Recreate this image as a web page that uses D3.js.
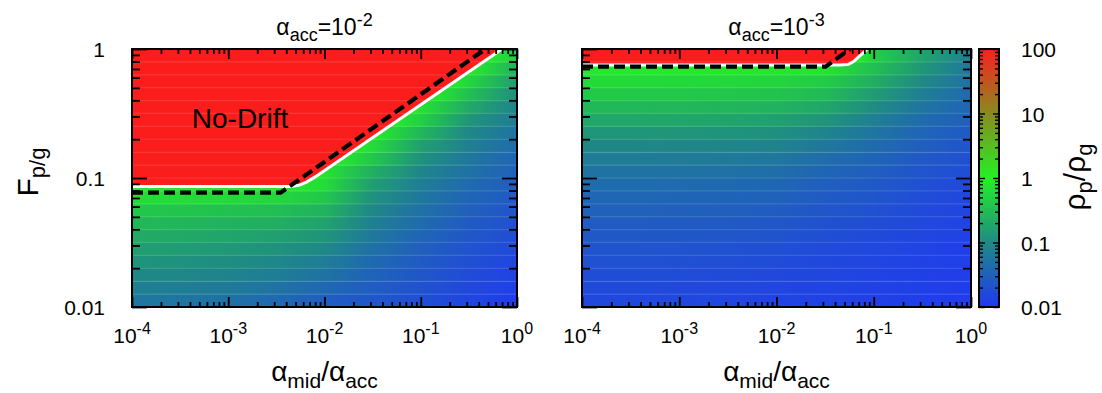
<!DOCTYPE html>
<html>
<head>
<meta charset="utf-8">
<script src="https://cdn.jsdelivr.net/npm/d3@7"></script>
<style>
  body { margin: 0; background: #fff; }
  text { font-family: "Liberation Sans", Arial, Helvetica, sans-serif; fill: #000; }
</style>
</head>
<body>
<svg id="chart" width="1102" height="393"></svg>
<script>
// ---- data ----
// F_p/g band centres (bottom -> top), 0.1 dex bands
var F_ROWS = [0.0112, 0.0141, 0.0178, 0.0224, 0.0282, 0.0355, 0.0447, 0.0562, 0.0708, 0.0891,
              0.112, 0.141, 0.178, 0.224, 0.282, 0.355, 0.447, 0.562, 0.708, 0.891];
// alpha_mid/alpha_acc columns where the colour was read
var X_COLS = [1e-4, 3.16e-4, 1e-3, 3.16e-3, 1e-2, 3.16e-2, 0.1, 0.316, 1];

// log10(rho_p/rho_g), one array per column, rows bottom -> top; null = no-drift (red)
var LEFT_LOG_RHO = [
  [-1.24,-1.13,-1.02,-0.91,-0.80,-0.68,-0.55,-0.40,-0.19,null,null,null,null,null,null,null,null,null,null,null],
  [-1.26,-1.15,-1.04,-0.93,-0.82,-0.70,-0.57,-0.42,-0.20,null,null,null,null,null,null,null,null,null,null,null],
  [-1.30,-1.19,-1.08,-0.97,-0.86,-0.74,-0.61,-0.46,-0.22,null,null,null,null,null,null,null,null,null,null,null],
  [-1.40,-1.28,-1.16,-1.04,-0.92,-0.79,-0.65,-0.49,-0.25,null,null,null,null,null,null,null,null,null,null,null],
  [-1.55,-1.42,-1.29,-1.16,-1.03,-0.90,-0.76,-0.60,-0.40,-0.20,-0.12,null,null,null,null,null,null,null,null,null],
  [-1.63,-1.56,-1.48,-1.40,-1.31,-1.22,-1.13,-1.04,-0.93,-0.80,-0.64,-0.40,-0.20,null,null,null,null,null,null,null],
  [-1.73,-1.68,-1.63,-1.57,-1.51,-1.45,-1.38,-1.31,-1.23,-1.15,-1.06,-0.93,-0.78,-0.56,-0.31,-0.15,null,null,null,null],
  [-1.84,-1.80,-1.76,-1.72,-1.67,-1.62,-1.57,-1.51,-1.45,-1.38,-1.31,-1.23,-1.12,-1.02,-0.89,-0.70,-0.47,-0.25,-0.10,null],
  [-1.94,-1.90,-1.86,-1.82,-1.78,-1.74,-1.70,-1.65,-1.60,-1.55,-1.50,-1.45,-1.37,-1.28,-1.18,-1.08,-0.96,-0.82,-0.62,-0.36]
];
var RIGHT_LOG_RHO = [
  [-1.80,-1.78,-1.74,-1.70,-1.66,-1.61,-1.56,-1.50,-1.44,-1.37,-1.28,-1.17,-1.03,-0.88,-0.72,-0.55,-0.38,-0.22,-0.08,null],
  [-1.80,-1.78,-1.74,-1.70,-1.66,-1.61,-1.56,-1.50,-1.44,-1.37,-1.28,-1.17,-1.03,-0.88,-0.72,-0.55,-0.38,-0.22,-0.08,null],
  [-1.81,-1.79,-1.75,-1.71,-1.67,-1.62,-1.57,-1.51,-1.45,-1.38,-1.29,-1.18,-1.04,-0.89,-0.73,-0.56,-0.39,-0.23,-0.08,null],
  [-1.83,-1.81,-1.77,-1.73,-1.69,-1.64,-1.59,-1.53,-1.47,-1.40,-1.31,-1.20,-1.06,-0.91,-0.75,-0.58,-0.41,-0.25,-0.09,null],
  [-1.86,-1.84,-1.80,-1.76,-1.72,-1.67,-1.62,-1.56,-1.50,-1.43,-1.34,-1.23,-1.09,-0.94,-0.78,-0.61,-0.44,-0.27,-0.10,null],
  [-1.88,-1.86,-1.83,-1.80,-1.77,-1.73,-1.69,-1.64,-1.59,-1.53,-1.45,-1.35,-1.22,-1.07,-0.90,-0.72,-0.53,-0.35,-0.12,null],
  [-1.90,-1.88,-1.86,-1.84,-1.81,-1.78,-1.74,-1.70,-1.65,-1.60,-1.54,-1.46,-1.37,-1.26,-1.13,-0.98,-0.82,-0.65,-0.48,-0.32],
  [-1.93,-1.92,-1.90,-1.88,-1.86,-1.84,-1.81,-1.78,-1.75,-1.71,-1.66,-1.60,-1.53,-1.45,-1.36,-1.26,-1.14,-1.01,-0.88,-0.75],
  [-1.95,-1.94,-1.93,-1.92,-1.91,-1.89,-1.87,-1.85,-1.82,-1.79,-1.75,-1.71,-1.66,-1.60,-1.53,-1.46,-1.39,-1.31,-1.23,-1.15]
];
// value just under the white line
var LEFT_EDGE_LOG = -0.1;
var RIGHT_EDGE_LOG = -0.08;

// no-drift boundary (white) and analytic criterion (dashed), [alpha ratio, F]
var LEFT_EDGE  = [[1e-4,0.086],[4.5e-3,0.086],[5.5e-3,0.088],[6.5e-3,0.093],[8e-3,0.102],[0.7,1]];
var LEFT_DASH  = [[1e-4,0.077],[3.5e-3,0.077],[0.47,1]];
var RIGHT_EDGE = [[1e-4,0.75],[0.045,0.75],[0.055,0.76],[0.062,0.8],[0.07,0.87],[0.08,0.95],[0.085,1]];
var RIGHT_DASH = [[1e-4,0.73],[0.032,0.73],[0.057,1]];

// colour bar
var CB_LOG    = [-2, -1, 0, 1, 2];
var CB_COLORS = ["#2038f2", "#1f8a84", "#24f024", "#8a8a20", "#f82020"];
var CB_TICKS  = [0.01, 0.1, 1, 10, 100];
var CB_LABELS = ["0.01", "0.1", "1", "10", "100"];

var X_TICKS = [1e-4, 1e-3, 1e-2, 1e-1, 1];
var X_EXP   = ["-4", "-3", "-2", "-1", "0"];
var Y_TICKS = [0.01, 0.1, 1];
var Y_LABELS = ["0.01", "0.1", "1"];

// ---- layout ----
var TOP = 49, BOTTOM = 307;
var svg = d3.select("#chart");
var defs = svg.append("defs");

var color = d3.scaleLinear().domain(CB_LOG).range(CB_COLORS).clamp(true);
var y = d3.scaleLog().domain([0.01, 1]).range([BOTTOM, TOP]);

var panels = [
  { id: "L", left: 132, right: 517, exp: "-2", rho: LEFT_LOG_RHO, edgeVal: LEFT_EDGE_LOG,
    edge: LEFT_EDGE, dash: LEFT_DASH, yLabels: true, note: "No-Drift" },
  { id: "R", left: 582, right: 971, exp: "-3", rho: RIGHT_LOG_RHO, edgeVal: RIGHT_EDGE_LOG,
    edge: RIGHT_EDGE, dash: RIGHT_DASH, yLabels: false }
];

function minorTicks( lo, hi ){
  var out = [];
  for( var e = lo ; e < hi ; e++ )
    for( var m = 2 ; m <= 9 ; m++ ) out.push( m * Math.pow( 10, e ) );
  return out;
}

// where the boundary curve crosses a given F (only on its rising part)
function edgeCrossing( edge, f ){
  for( var k = 1 ; k < edge.length ; k++ ){
    var a = edge[ k - 1 ], b = edge[ k ];
    if( a[1] !== b[1] && f >= a[1] && f <= b[1] ){
      var t = ( Math.log( f ) - Math.log( a[1] ) ) / ( Math.log( b[1] ) - Math.log( a[1] ) );
      return Math.exp( Math.log( a[0] ) + t * ( Math.log( b[0] ) - Math.log( a[0] ) ) );
    }
  }
  return null;
}

// text made of [string, size, dy] pieces
function richText( g, parts ){
  var t = g.append( "text" );
  parts.forEach( function( q ){
    t.append( "tspan" ).attr( "font-size", q[1] ).attr( "dy", q[2] || 0 ).text( q[0] );
  });
  return t;
}

panels.forEach( function( p ){
  var x = d3.scaleLog().domain([1e-4, 1]).range([p.left, p.right]);
  var w = p.right - p.left;
  var g = svg.append( "g" );

  defs.append( "clipPath" ).attr( "id", "clip" + p.id )
    .append( "rect" ).attr( "x", p.left ).attr( "y", TOP ).attr( "width", w ).attr( "height", BOTTOM - TOP );

  var body = g.append( "g" ).attr( "clip-path", "url(#clip" + p.id + ")" );

  // heat bands: each band gets a horizontal gradient through the read columns
  F_ROWS.forEach( function( f, i ){
    var stops = [];
    var xe = edgeCrossing( p.edge, f );
    var eOff = xe === null ? -1 : ( x( xe ) - p.left ) / w;
    if( xe !== null ) stops.push( { off: eOff, c: color( p.edgeVal ) } );
    X_COLS.forEach( function( xc, j ){
      var v = p.rho[ j ][ i ];
      var off = ( x( xc ) - p.left ) / w;
      if( v !== null && off > eOff + 0.01 ) stops.push( { off: off, c: color( v ) } );
    });
    if( !stops.length ) return;
    var gid = "g" + p.id + i;
    var grad = defs.append( "linearGradient" ).attr( "id", gid );
    stops.forEach( function( s ){
      grad.append( "stop" ).attr( "offset", s.off ).attr( "stop-color", s.c );
    });
    var y0 = y( f * Math.pow( 10, 0.05 ) ), y1 = y( f / Math.pow( 10, 0.05 ) );
    body.append( "rect" )
      .attr( "x", p.left ).attr( "y", y0 ).attr( "width", w ).attr( "height", y1 - y0 + 0.6 )
      .attr( "fill", "url(#" + gid + ")" );
  });

  var line = d3.line().x( function( d ){ return x( d[0] ); } ).y( function( d ){ return y( d[1] ); } );

  // no-drift region
  var area = [[1e-4, 1]].concat( p.edge ).concat( [[1e-4, 1]] );
  body.append( "path" ).attr( "d", line( area ) + "Z" ).attr( "fill", "#fb1c1c" );

  // faint grid stripes of the map
  F_ROWS.forEach( function( f ){
    var yy = y( f * Math.pow( 10, 0.05 ) );
    body.append( "line" ).attr( "x1", p.left ).attr( "x2", p.right ).attr( "y1", yy ).attr( "y2", yy )
      .attr( "stroke", "#fff" ).attr( "stroke-opacity", 0.12 ).attr( "stroke-width", 1.2 );
  });

  body.append( "path" ).attr( "d", line( p.edge ) )
    .attr( "fill", "none" ).attr( "stroke", "#fff" ).attr( "stroke-width", 3 );
  body.append( "path" ).attr( "d", line( p.dash ) )
    .attr( "fill", "none" ).attr( "stroke", "#000" ).attr( "stroke-width", 4.2 )
    .attr( "stroke-dasharray", "11,5" );

  if( p.note ){
    g.append( "text" ).attr( "x", 240 ).attr( "y", 128 ).attr( "font-size", 28 )
      .attr( "text-anchor", "middle" ).text( p.note );
  }

  // ticks on all four sides, pointing inward
  function axis( a, vals, len ){
    return a.tickValues( vals ).tickSizeInner( -len ).tickSizeOuter( 0 ).tickFormat( "" );
  }
  var xMinor = minorTicks( -4, 0 ), yMinor = minorTicks( -2, 0 );
  [[d3.axisBottom, BOTTOM], [d3.axisTop, TOP]].forEach( function( a ){
    g.append( "g" ).attr( "transform", "translate(0," + a[1] + ")" ).call( axis( a[0]( x ), X_TICKS, 10 ) );
    g.append( "g" ).attr( "transform", "translate(0," + a[1] + ")" ).call( axis( a[0]( x ), xMinor, 5 ) );
  });
  [[d3.axisLeft, p.left], [d3.axisRight, p.right]].forEach( function( a ){
    g.append( "g" ).attr( "transform", "translate(" + a[1] + ",0)" ).call( axis( a[0]( y ), Y_TICKS, 15 ) );
    g.append( "g" ).attr( "transform", "translate(" + a[1] + ",0)" ).call( axis( a[0]( y ), yMinor, 8 ) );
  });
  g.selectAll( ".domain" ).remove();
  g.selectAll( ".tick line" ).attr( "stroke", "#000" ).attr( "stroke-width", 1.8 );

  g.append( "rect" ).attr( "x", p.left ).attr( "y", TOP ).attr( "width", w ).attr( "height", BOTTOM - TOP )
    .attr( "fill", "none" ).attr( "stroke", "#000" ).attr( "stroke-width", 2 );

  // x tick labels
  X_TICKS.forEach( function( v, k ){
    richText( g, [["10", 21], [X_EXP[ k ], 16, -9]] )
      .attr( "x", x( v ) ).attr( "y", 343 ).attr( "text-anchor", "middle" );
  });

  if( p.yLabels ){
    Y_TICKS.forEach( function( v, k ){
      g.append( "text" ).attr( "x", 105 ).attr( "y", y( v ) + 8 ).attr( "font-size", 21 )
        .attr( "text-anchor", "end" ).text( Y_LABELS[ k ] );
    });
  }

  // panel title
  richText( g, [["α", 23], ["acc", 18, 6], ["=10", 23, -6], [p.exp, 18, -9]] )
    .attr( "x", ( p.left + p.right ) / 2 ).attr( "y", 35 ).attr( "text-anchor", "middle" );

  // x axis title
  richText( g, [["α", 28], ["mid", 21, 7], ["/α", 28, -7], ["acc", 21, 7]] )
    .attr( "x", ( p.left + p.right ) / 2 ).attr( "y", 381 ).attr( "text-anchor", "middle" );
});

// y axis title
richText( svg, [["F", 30], ["p/g", 22, 7]] )
  .attr( "transform", "translate(38,172) rotate(-90)" ).attr( "text-anchor", "middle" );

// ---- colour bar ----
var CB_X = 979, CB_W = 20;
var cy = d3.scaleLog().domain([0.01, 100]).range([BOTTOM, TOP]);
var cbGrad = defs.append( "linearGradient" ).attr( "id", "cbgrad" )
  .attr( "x1", 0 ).attr( "y1", 1 ).attr( "x2", 0 ).attr( "y2", 0 );
CB_LOG.forEach( function( v, k ){
  cbGrad.append( "stop" ).attr( "offset", ( v + 2 ) / 4 ).attr( "stop-color", CB_COLORS[ k ] );
});
svg.append( "rect" ).attr( "x", CB_X ).attr( "y", TOP ).attr( "width", CB_W ).attr( "height", BOTTOM - TOP )
  .attr( "fill", "url(#cbgrad)" );

var cbg = svg.append( "g" );
var cbMinor = minorTicks( -2, 2 );
[[d3.axisLeft, CB_X], [d3.axisRight, CB_X + CB_W]].forEach( function( a ){
  cbg.append( "g" ).attr( "transform", "translate(" + a[1] + ",0)" )
    .call( a[0]( cy ).tickValues( CB_TICKS ).tickSizeInner( -6 ).tickSizeOuter( 0 ).tickFormat( "" ) );
  cbg.append( "g" ).attr( "transform", "translate(" + a[1] + ",0)" )
    .call( a[0]( cy ).tickValues( cbMinor ).tickSizeInner( -4 ).tickSizeOuter( 0 ).tickFormat( "" ) );
});
cbg.selectAll( ".domain" ).remove();
cbg.selectAll( ".tick line" ).attr( "stroke", "#000" ).attr( "stroke-width", 1.4 );
svg.append( "rect" ).attr( "x", CB_X ).attr( "y", TOP ).attr( "width", CB_W ).attr( "height", BOTTOM - TOP )
  .attr( "fill", "none" ).attr( "stroke", "#000" ).attr( "stroke-width", 2 );

CB_TICKS.forEach( function( v, k ){
  svg.append( "text" ).attr( "x", 1021 ).attr( "y", cy( v ) + 8 ).attr( "font-size", 21 ).text( CB_LABELS[ k ] );
});

richText( svg, [["ρ", 30], ["p", 22, 7], ["/ρ", 30, -7], ["g", 22, 7]] )
  .attr( "transform", "translate(1085,177) rotate(-90)" ).attr( "text-anchor", "middle" );
</script>
</body>
</html>
